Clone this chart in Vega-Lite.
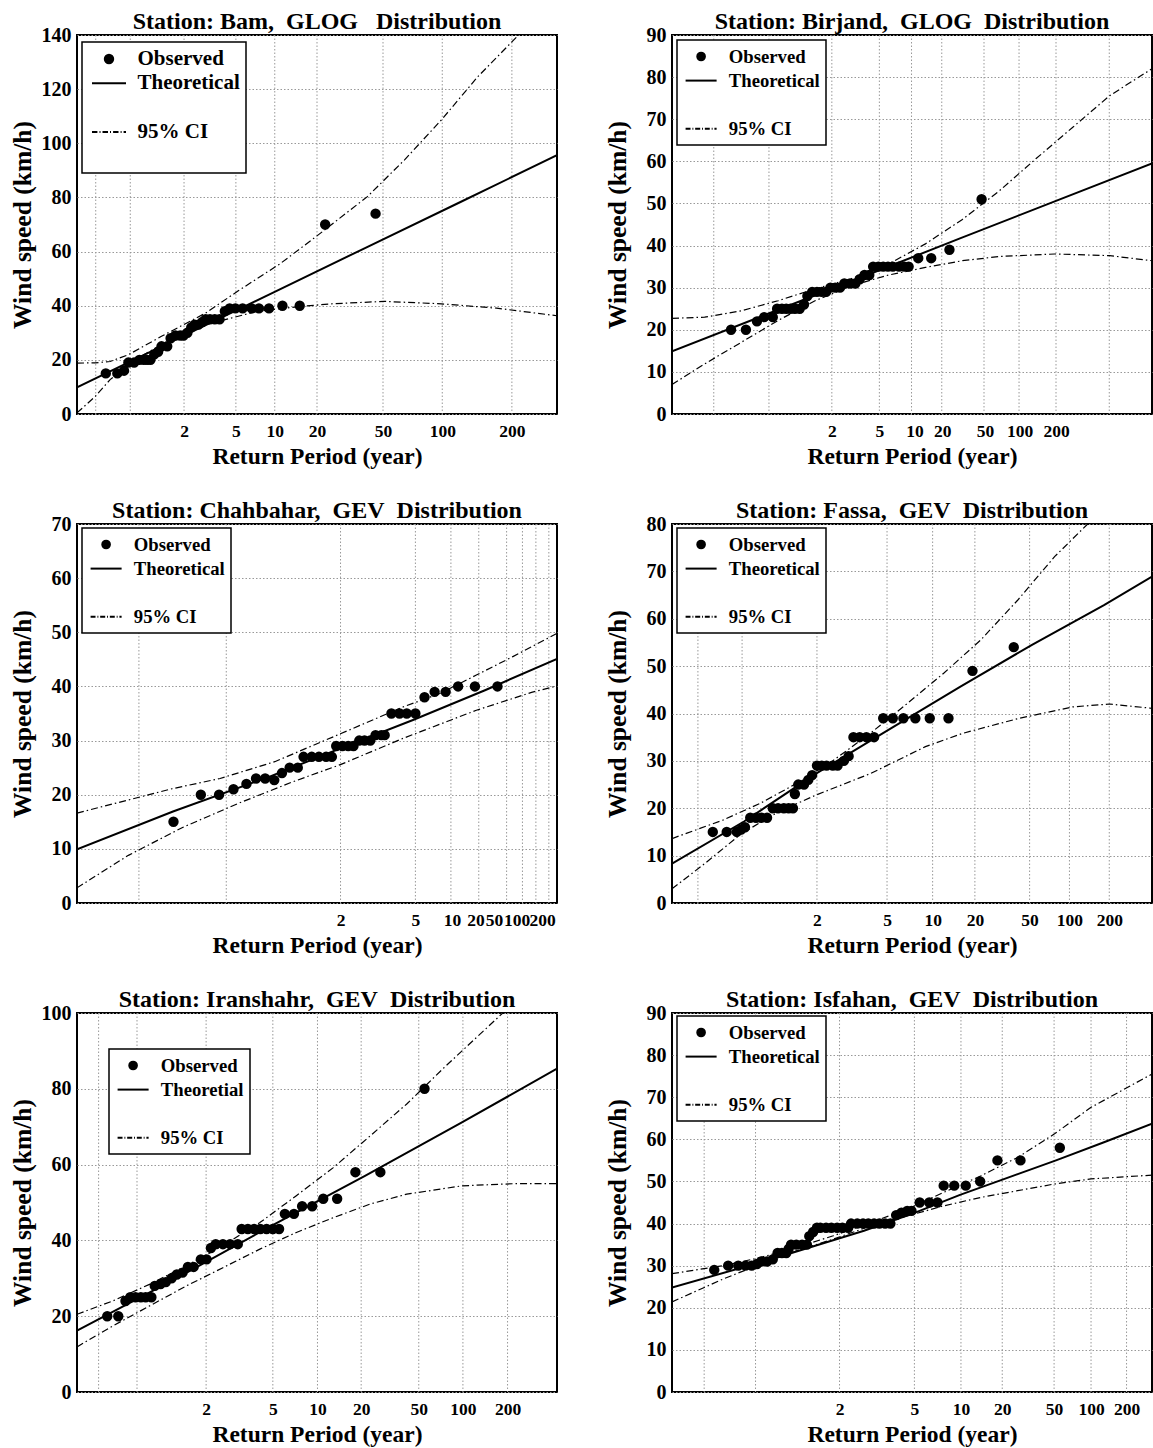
{
"$schema": "https://vega.github.io/schema/vega-lite/v6.json",
"background": "white",
"padding": {"left": 9, "top": 9, "right": 0, "bottom": 0},
"columns": 2,
"spacing": {"row": 110, "column": 115},
"bounds": "flush",
"resolve": {"scale": {"x": "independent", "y": "independent", "shape": "independent"}, "legend": {"shape": "independent"}},
"datasets": {
"obs": [
{"s":"Bam","p":6.0,"v":15},{"s":"Bam","p":8.4,"v":15},{"s":"Bam","p":9.8,"v":16},{"s":"Bam","p":10.7,"v":19},{"s":"Bam","p":11.9,"v":19},{"s":"Bam","p":13.0,"v":20},{"s":"Bam","p":13.9,"v":20},{"s":"Bam","p":14.6,"v":20},{"s":"Bam","p":15.3,"v":20},{"s":"Bam","p":16.1,"v":22},{"s":"Bam","p":16.9,"v":23},{"s":"Bam","p":17.6,"v":25},{"s":"Bam","p":18.8,"v":25},{"s":"Bam","p":19.5,"v":28},{"s":"Bam","p":20.5,"v":29},{"s":"Bam","p":21.5,"v":29},{"s":"Bam","p":22.2,"v":29},{"s":"Bam","p":23.0,"v":30},{"s":"Bam","p":23.8,"v":32},{"s":"Bam","p":24.5,"v":33},{"s":"Bam","p":25.3,"v":33},{"s":"Bam","p":26.1,"v":34},{"s":"Bam","p":26.8,"v":35},{"s":"Bam","p":27.7,"v":35},{"s":"Bam","p":28.7,"v":35},{"s":"Bam","p":29.7,"v":35},{"s":"Bam","p":30.8,"v":38},{"s":"Bam","p":31.8,"v":39},{"s":"Bam","p":33.0,"v":39},{"s":"Bam","p":34.5,"v":39},{"s":"Bam","p":36.4,"v":39},{"s":"Bam","p":37.9,"v":39},{"s":"Bam","p":40.0,"v":39},{"s":"Bam","p":42.8,"v":40},{"s":"Bam","p":46.4,"v":40},{"s":"Bam","p":51.7,"v":70},{"s":"Bam","p":62.2,"v":74},
{"s":"Birjand","p":12.3,"v":20},{"s":"Birjand","p":15.4,"v":20},{"s":"Birjand","p":17.7,"v":22},{"s":"Birjand","p":19.2,"v":23},{"s":"Birjand","p":21.0,"v":23},{"s":"Birjand","p":21.9,"v":25},{"s":"Birjand","p":22.9,"v":25},{"s":"Birjand","p":23.8,"v":25},{"s":"Birjand","p":24.7,"v":25},{"s":"Birjand","p":25.6,"v":25},{"s":"Birjand","p":26.6,"v":25},{"s":"Birjand","p":27.5,"v":26},{"s":"Birjand","p":28.2,"v":28},{"s":"Birjand","p":29.2,"v":29},{"s":"Birjand","p":30.2,"v":29},{"s":"Birjand","p":31.2,"v":29},{"s":"Birjand","p":32.1,"v":29},{"s":"Birjand","p":33.0,"v":30},{"s":"Birjand","p":34.0,"v":30},{"s":"Birjand","p":35.0,"v":30},{"s":"Birjand","p":35.9,"v":31},{"s":"Birjand","p":37.1,"v":31},{"s":"Birjand","p":38.2,"v":31},{"s":"Birjand","p":39.1,"v":32},{"s":"Birjand","p":40.1,"v":33},{"s":"Birjand","p":41.1,"v":33},{"s":"Birjand","p":41.9,"v":35},{"s":"Birjand","p":43.0,"v":35},{"s":"Birjand","p":44.0,"v":35},{"s":"Birjand","p":45.0,"v":35},{"s":"Birjand","p":46.0,"v":35},{"s":"Birjand","p":47.3,"v":35},{"s":"Birjand","p":48.4,"v":35},{"s":"Birjand","p":49.3,"v":35},{"s":"Birjand","p":51.3,"v":37},{"s":"Birjand","p":54.0,"v":37},{"s":"Birjand","p":57.8,"v":39},{"s":"Birjand","p":64.5,"v":51},
{"s":"Chahbahar","p":20.1,"v":15},{"s":"Chahbahar","p":25.8,"v":20},{"s":"Chahbahar","p":29.6,"v":20},{"s":"Chahbahar","p":32.6,"v":21},{"s":"Chahbahar","p":35.3,"v":22},{"s":"Chahbahar","p":37.3,"v":23},{"s":"Chahbahar","p":39.2,"v":23},{"s":"Chahbahar","p":41.1,"v":22.7},{"s":"Chahbahar","p":42.7,"v":24},{"s":"Chahbahar","p":44.3,"v":25},{"s":"Chahbahar","p":46.0,"v":25},{"s":"Chahbahar","p":47.2,"v":27},{"s":"Chahbahar","p":48.9,"v":27},{"s":"Chahbahar","p":50.4,"v":27},{"s":"Chahbahar","p":51.9,"v":27},{"s":"Chahbahar","p":53.1,"v":27},{"s":"Chahbahar","p":54.0,"v":29},{"s":"Chahbahar","p":55.3,"v":29},{"s":"Chahbahar","p":56.5,"v":29},{"s":"Chahbahar","p":57.6,"v":29},{"s":"Chahbahar","p":58.8,"v":30},{"s":"Chahbahar","p":59.9,"v":30},{"s":"Chahbahar","p":61.1,"v":30},{"s":"Chahbahar","p":62.2,"v":31},{"s":"Chahbahar","p":63.4,"v":31},{"s":"Chahbahar","p":64.1,"v":31},{"s":"Chahbahar","p":65.5,"v":35},{"s":"Chahbahar","p":67.2,"v":35},{"s":"Chahbahar","p":68.7,"v":35},{"s":"Chahbahar","p":70.5,"v":35},{"s":"Chahbahar","p":72.4,"v":38},{"s":"Chahbahar","p":74.5,"v":39},{"s":"Chahbahar","p":76.8,"v":39},{"s":"Chahbahar","p":79.4,"v":40},{"s":"Chahbahar","p":82.9,"v":40},{"s":"Chahbahar","p":87.6,"v":40},
{"s":"Fassa","p":8.5,"v":15},{"s":"Fassa","p":11.4,"v":15},{"s":"Fassa","p":13.5,"v":15},{"s":"Fassa","p":14.4,"v":15.5},{"s":"Fassa","p":15.2,"v":16},{"s":"Fassa","p":16.3,"v":18},{"s":"Fassa","p":17.5,"v":18},{"s":"Fassa","p":18.6,"v":18},{"s":"Fassa","p":19.8,"v":18},{"s":"Fassa","p":21.0,"v":20},{"s":"Fassa","p":22.1,"v":20},{"s":"Fassa","p":23.3,"v":20},{"s":"Fassa","p":24.3,"v":20},{"s":"Fassa","p":25.2,"v":20},{"s":"Fassa","p":25.6,"v":23},{"s":"Fassa","p":26.3,"v":25},{"s":"Fassa","p":27.5,"v":25},{"s":"Fassa","p":28.4,"v":26},{"s":"Fassa","p":29.2,"v":27},{"s":"Fassa","p":30.2,"v":29},{"s":"Fassa","p":31.2,"v":29},{"s":"Fassa","p":32.2,"v":29},{"s":"Fassa","p":33.5,"v":29},{"s":"Fassa","p":34.5,"v":29},{"s":"Fassa","p":35.8,"v":30},{"s":"Fassa","p":36.8,"v":31},{"s":"Fassa","p":37.8,"v":35},{"s":"Fassa","p":39.1,"v":35},{"s":"Fassa","p":40.5,"v":35},{"s":"Fassa","p":42.1,"v":35},{"s":"Fassa","p":44.0,"v":39},{"s":"Fassa","p":46.0,"v":39},{"s":"Fassa","p":48.2,"v":39},{"s":"Fassa","p":50.7,"v":39},{"s":"Fassa","p":53.7,"v":39},{"s":"Fassa","p":57.6,"v":39},{"s":"Fassa","p":62.6,"v":49},{"s":"Fassa","p":71.2,"v":54},
{"s":"Iranshahr","p":6.3,"v":20},{"s":"Iranshahr","p":8.6,"v":20},{"s":"Iranshahr","p":10.1,"v":24},{"s":"Iranshahr","p":11.1,"v":25},{"s":"Iranshahr","p":12.2,"v":25},{"s":"Iranshahr","p":13.3,"v":25},{"s":"Iranshahr","p":14.3,"v":25},{"s":"Iranshahr","p":15.5,"v":25},{"s":"Iranshahr","p":16.2,"v":28},{"s":"Iranshahr","p":17.4,"v":28.5},{"s":"Iranshahr","p":18.5,"v":29},{"s":"Iranshahr","p":19.7,"v":30},{"s":"Iranshahr","p":20.8,"v":31},{"s":"Iranshahr","p":22.0,"v":31.5},{"s":"Iranshahr","p":23.1,"v":33},{"s":"Iranshahr","p":24.3,"v":33},{"s":"Iranshahr","p":25.8,"v":35},{"s":"Iranshahr","p":27.0,"v":35},{"s":"Iranshahr","p":27.9,"v":38},{"s":"Iranshahr","p":28.9,"v":39},{"s":"Iranshahr","p":30.4,"v":39},{"s":"Iranshahr","p":31.9,"v":39},{"s":"Iranshahr","p":33.5,"v":39},{"s":"Iranshahr","p":34.3,"v":43},{"s":"Iranshahr","p":35.6,"v":43},{"s":"Iranshahr","p":36.9,"v":43},{"s":"Iranshahr","p":38.2,"v":43},{"s":"Iranshahr","p":39.5,"v":43},{"s":"Iranshahr","p":40.8,"v":43},{"s":"Iranshahr","p":42.1,"v":43},{"s":"Iranshahr","p":43.3,"v":47},{"s":"Iranshahr","p":45.2,"v":47},{"s":"Iranshahr","p":46.9,"v":49},{"s":"Iranshahr","p":49.0,"v":49},{"s":"Iranshahr","p":51.3,"v":51},{"s":"Iranshahr","p":54.2,"v":51},{"s":"Iranshahr","p":58.0,"v":58},{"s":"Iranshahr","p":63.2,"v":58},{"s":"Iranshahr","p":72.4,"v":80},
{"s":"Isfahan","p":8.8,"v":29},{"s":"Isfahan","p":11.7,"v":30},{"s":"Isfahan","p":13.8,"v":30},{"s":"Isfahan","p":15.3,"v":30},{"s":"Isfahan","p":16.6,"v":30},{"s":"Isfahan","p":17.7,"v":30.4},{"s":"Isfahan","p":18.6,"v":31},{"s":"Isfahan","p":19.8,"v":31},{"s":"Isfahan","p":21.0,"v":31.5},{"s":"Isfahan","p":22.0,"v":33},{"s":"Isfahan","p":22.9,"v":33},{"s":"Isfahan","p":23.8,"v":33},{"s":"Isfahan","p":24.3,"v":34},{"s":"Isfahan","p":24.8,"v":35},{"s":"Isfahan","p":25.9,"v":35},{"s":"Isfahan","p":27.1,"v":35},{"s":"Isfahan","p":28.1,"v":35},{"s":"Isfahan","p":28.6,"v":37},{"s":"Isfahan","p":29.4,"v":38},{"s":"Isfahan","p":30.2,"v":39},{"s":"Isfahan","p":30.9,"v":39},{"s":"Isfahan","p":32.1,"v":39},{"s":"Isfahan","p":33.2,"v":39},{"s":"Isfahan","p":34.4,"v":39},{"s":"Isfahan","p":35.5,"v":39},{"s":"Isfahan","p":36.7,"v":39},{"s":"Isfahan","p":37.3,"v":40},{"s":"Isfahan","p":38.6,"v":40},{"s":"Isfahan","p":39.8,"v":40},{"s":"Isfahan","p":40.9,"v":40},{"s":"Isfahan","p":42.1,"v":40},{"s":"Isfahan","p":43.2,"v":40},{"s":"Isfahan","p":44.4,"v":40},{"s":"Isfahan","p":45.5,"v":40},{"s":"Isfahan","p":46.7,"v":42},{"s":"Isfahan","p":47.8,"v":42.6},{"s":"Isfahan","p":49.0,"v":43},{"s":"Isfahan","p":49.9,"v":43},{"s":"Isfahan","p":51.6,"v":45},{"s":"Isfahan","p":53.6,"v":45},{"s":"Isfahan","p":55.3,"v":45},{"s":"Isfahan","p":56.6,"v":49},{"s":"Isfahan","p":58.8,"v":49},{"s":"Isfahan","p":61.2,"v":49},{"s":"Isfahan","p":64.2,"v":50},{"s":"Isfahan","p":67.8,"v":55},{"s":"Isfahan","p":72.6,"v":55},{"s":"Isfahan","p":80.8,"v":58}
],
"fit": [
{"s":"Bam","p":0,"v":9.8},{"s":"Bam","p":20,"v":27.0},{"s":"Bam","p":40,"v":44.1},{"s":"Bam","p":60,"v":61.3},{"s":"Bam","p":80,"v":78.4},{"s":"Bam","p":100,"v":95.6},
{"s":"Birjand","p":0,"v":14.9},{"s":"Birjand","p":20,"v":23.8},{"s":"Birjand","p":40,"v":32.7},{"s":"Birjand","p":60,"v":41.7},{"s":"Birjand","p":80,"v":50.6},{"s":"Birjand","p":100,"v":59.5},
{"s":"Chahbahar","p":0,"v":9.9},{"s":"Chahbahar","p":20,"v":16.9},{"s":"Chahbahar","p":40,"v":23.3},{"s":"Chahbahar","p":55,"v":28.6},{"s":"Chahbahar","p":70,"v":33.8},{"s":"Chahbahar","p":85,"v":39.3},{"s":"Chahbahar","p":100,"v":45.1},
{"s":"Fassa","p":0,"v":8.3},{"s":"Fassa","p":15,"v":17.2},{"s":"Fassa","p":30,"v":27.3},{"s":"Fassa","p":45,"v":36.5},{"s":"Fassa","p":60,"v":45.6},{"s":"Fassa","p":75,"v":54.5},{"s":"Fassa","p":90,"v":62.9},{"s":"Fassa","p":100,"v":68.9},
{"s":"Iranshahr","p":0,"v":16.2},{"s":"Iranshahr","p":20,"v":29.5},{"s":"Iranshahr","p":40,"v":43.5},{"s":"Iranshahr","p":60,"v":57.0},{"s":"Iranshahr","p":80,"v":71.0},{"s":"Iranshahr","p":100,"v":85.3},
{"s":"Isfahan","p":0,"v":24.8},{"s":"Isfahan","p":20,"v":31.3},{"s":"Isfahan","p":40,"v":38.3},{"s":"Isfahan","p":50,"v":42.3},{"s":"Isfahan","p":60,"v":46.8},{"s":"Isfahan","p":70,"v":50.9},{"s":"Isfahan","p":80,"v":55.0},{"s":"Isfahan","p":90,"v":59.3},{"s":"Isfahan","p":100,"v":63.7}
],
"ci": [
{"s":"Bam","b":"up","p":0,"v":18.8},{"s":"Bam","b":"up","p":3.8,"v":18.9},{"s":"Bam","b":"up","p":6.9,"v":19.4},{"s":"Bam","b":"up","p":10.7,"v":21.9},{"s":"Bam","b":"up","p":17.6,"v":28.7},{"s":"Bam","b":"up","p":26.8,"v":37.3},{"s":"Bam","b":"up","p":33.6,"v":45.5},{"s":"Bam","b":"up","p":42.3,"v":55.5},{"s":"Bam","b":"up","p":50,"v":65.8},{"s":"Bam","b":"up","p":60.5,"v":80.3},{"s":"Bam","b":"up","p":68.2,"v":93.8},{"s":"Bam","b":"up","p":75.9,"v":108.6},{"s":"Bam","b":"up","p":83.5,"v":124.6},{"s":"Bam","b":"up","p":92.0,"v":140},{"s":"Bam","b":"up","p":100,"v":154},
{"s":"Bam","b":"lo","p":0,"v":0.4},{"s":"Bam","b":"lo","p":3.8,"v":6.5},{"s":"Bam","b":"lo","p":6.9,"v":12.7},{"s":"Bam","b":"lo","p":11.5,"v":19.4},{"s":"Bam","b":"lo","p":17.6,"v":25.6},{"s":"Bam","b":"lo","p":26.8,"v":33},{"s":"Bam","b":"lo","p":37.5,"v":37.9},{"s":"Bam","b":"lo","p":46.4,"v":39.7},{"s":"Bam","b":"lo","p":52.9,"v":40.7},{"s":"Bam","b":"lo","p":64.0,"v":41.6},{"s":"Bam","b":"lo","p":75.9,"v":40.7},{"s":"Bam","b":"lo","p":87.4,"v":39.1},{"s":"Bam","b":"lo","p":100,"v":36.3},
{"s":"Birjand","b":"up","p":0,"v":22.7},{"s":"Birjand","b":"up","p":6.8,"v":23},{"s":"Birjand","b":"up","p":14.4,"v":24.5},{"s":"Birjand","b":"up","p":22.1,"v":26.9},{"s":"Birjand","b":"up","p":29.8,"v":29.7},{"s":"Birjand","b":"up","p":37.5,"v":32.2},{"s":"Birjand","b":"up","p":45.1,"v":35.6},{"s":"Birjand","b":"up","p":52.8,"v":40.4},{"s":"Birjand","b":"up","p":60.5,"v":46.2},{"s":"Birjand","b":"up","p":68.2,"v":53},{"s":"Birjand","b":"up","p":75.8,"v":60.6},{"s":"Birjand","b":"up","p":83.5,"v":68.1},{"s":"Birjand","b":"up","p":91.2,"v":75.6},{"s":"Birjand","b":"up","p":100,"v":82},
{"s":"Birjand","b":"lo","p":0,"v":7.0},{"s":"Birjand","b":"lo","p":6.8,"v":11.9},{"s":"Birjand","b":"lo","p":14.4,"v":17},{"s":"Birjand","b":"lo","p":22.1,"v":22.2},{"s":"Birjand","b":"lo","p":29.8,"v":26.9},{"s":"Birjand","b":"lo","p":37.5,"v":30.5},{"s":"Birjand","b":"lo","p":45.1,"v":33},{"s":"Birjand","b":"lo","p":52.8,"v":34.8},{"s":"Birjand","b":"lo","p":60.5,"v":36.4},{"s":"Birjand","b":"lo","p":68.2,"v":37.4},{"s":"Birjand","b":"lo","p":79.7,"v":38},{"s":"Birjand","b":"lo","p":91.2,"v":37.6},{"s":"Birjand","b":"lo","p":100,"v":36.4},
{"s":"Chahbahar","b":"up","p":0,"v":16.6},{"s":"Chahbahar","b":"up","p":19.8,"v":21.1},{"s":"Chahbahar","b":"up","p":29.8,"v":23},{"s":"Chahbahar","b":"up","p":41.2,"v":26.1},{"s":"Chahbahar","b":"up","p":55,"v":31.3},{"s":"Chahbahar","b":"up","p":67.9,"v":36.2},{"s":"Chahbahar","b":"up","p":75.6,"v":38.7},{"s":"Chahbahar","b":"up","p":83.2,"v":42.1},{"s":"Chahbahar","b":"up","p":90.8,"v":45.5},{"s":"Chahbahar","b":"up","p":100,"v":49.8},
{"s":"Chahbahar","b":"lo","p":0,"v":2.8},{"s":"Chahbahar","b":"lo","p":10.7,"v":8.8},{"s":"Chahbahar","b":"lo","p":22.1,"v":14},{"s":"Chahbahar","b":"lo","p":33.6,"v":18.4},{"s":"Chahbahar","b":"lo","p":45,"v":22.4},{"s":"Chahbahar","b":"lo","p":55,"v":25.6},{"s":"Chahbahar","b":"lo","p":67.9,"v":30.4},{"s":"Chahbahar","b":"lo","p":83.2,"v":35.6},{"s":"Chahbahar","b":"lo","p":94.7,"v":38.9},{"s":"Chahbahar","b":"lo","p":100,"v":40.1},
{"s":"Fassa","b":"up","p":0,"v":13.6},{"s":"Fassa","b":"up","p":10.6,"v":17.5},{"s":"Fassa","b":"up","p":18.3,"v":21},{"s":"Fassa","b":"up","p":25.9,"v":25.2},{"s":"Fassa","b":"up","p":33.6,"v":30.1},{"s":"Fassa","b":"up","p":41.3,"v":35.8},{"s":"Fassa","b":"up","p":49,"v":42.1},{"s":"Fassa","b":"up","p":56.6,"v":48.5},{"s":"Fassa","b":"up","p":64.3,"v":55.5},{"s":"Fassa","b":"up","p":72,"v":63.9},{"s":"Fassa","b":"up","p":79.7,"v":73.1},{"s":"Fassa","b":"up","p":86.6,"v":80},{"s":"Fassa","b":"up","p":100,"v":95},
{"s":"Fassa","b":"lo","p":0,"v":3.0},{"s":"Fassa","b":"lo","p":6.8,"v":8.3},{"s":"Fassa","b":"lo","p":14.4,"v":14.6},{"s":"Fassa","b":"lo","p":22.1,"v":19.2},{"s":"Fassa","b":"lo","p":29.8,"v":22.7},{"s":"Fassa","b":"lo","p":41.3,"v":27.3},{"s":"Fassa","b":"lo","p":52.8,"v":33},{"s":"Fassa","b":"lo","p":60.5,"v":35.8},{"s":"Fassa","b":"lo","p":72,"v":38.9},{"s":"Fassa","b":"lo","p":83.5,"v":41.4},{"s":"Fassa","b":"lo","p":91.2,"v":42},{"s":"Fassa","b":"lo","p":100,"v":41.1},
{"s":"Iranshahr","b":"up","p":0,"v":20.5},{"s":"Iranshahr","b":"up","p":7.4,"v":24},{"s":"Iranshahr","b":"up","p":15.1,"v":28.4},{"s":"Iranshahr","b":"up","p":22.8,"v":33.3},{"s":"Iranshahr","b":"up","p":30.4,"v":38.6},{"s":"Iranshahr","b":"up","p":38.1,"v":44.7},{"s":"Iranshahr","b":"up","p":45.7,"v":51.8},{"s":"Iranshahr","b":"up","p":53.4,"v":59.2},{"s":"Iranshahr","b":"up","p":61.1,"v":67.6},{"s":"Iranshahr","b":"up","p":68.7,"v":76},{"s":"Iranshahr","b":"up","p":76.4,"v":85.5},{"s":"Iranshahr","b":"up","p":88.7,"v":100},{"s":"Iranshahr","b":"up","p":100,"v":114},
{"s":"Iranshahr","b":"lo","p":0,"v":11.9},{"s":"Iranshahr","b":"lo","p":7.4,"v":17.4},{"s":"Iranshahr","b":"lo","p":15.1,"v":22.7},{"s":"Iranshahr","b":"lo","p":22.8,"v":28},{"s":"Iranshahr","b":"lo","p":30.4,"v":32.8},{"s":"Iranshahr","b":"lo","p":38.1,"v":37.7},{"s":"Iranshahr","b":"lo","p":45.7,"v":42.1},{"s":"Iranshahr","b":"lo","p":53.4,"v":46},{"s":"Iranshahr","b":"lo","p":61.1,"v":49.6},{"s":"Iranshahr","b":"lo","p":68.7,"v":52.2},{"s":"Iranshahr","b":"lo","p":80.2,"v":54.4},{"s":"Iranshahr","b":"lo","p":91.7,"v":55},{"s":"Iranshahr","b":"lo","p":100,"v":55},
{"s":"Isfahan","b":"up","p":0,"v":28.1},{"s":"Isfahan","b":"up","p":10.6,"v":30},{"s":"Isfahan","b":"up","p":18.3,"v":31.9},{"s":"Isfahan","b":"up","p":25.9,"v":34.3},{"s":"Isfahan","b":"up","p":33.6,"v":37.1},{"s":"Isfahan","b":"up","p":41.3,"v":40.2},{"s":"Isfahan","b":"up","p":49,"v":43.4},{"s":"Isfahan","b":"up","p":56.6,"v":47.4},{"s":"Isfahan","b":"up","p":64.3,"v":51.3},{"s":"Isfahan","b":"up","p":72,"v":55.7},{"s":"Isfahan","b":"up","p":79.7,"v":61.3},{"s":"Isfahan","b":"up","p":87.3,"v":67.6},{"s":"Isfahan","b":"up","p":100,"v":75.5},
{"s":"Isfahan","b":"lo","p":0,"v":21.4},{"s":"Isfahan","b":"lo","p":10.6,"v":26.8},{"s":"Isfahan","b":"lo","p":18.3,"v":30.3},{"s":"Isfahan","b":"lo","p":25.9,"v":33.5},{"s":"Isfahan","b":"lo","p":33.6,"v":36.3},{"s":"Isfahan","b":"lo","p":41.3,"v":39.4},{"s":"Isfahan","b":"lo","p":49,"v":41.8},{"s":"Isfahan","b":"lo","p":56.6,"v":44.2},{"s":"Isfahan","b":"lo","p":64.3,"v":46.2},{"s":"Isfahan","b":"lo","p":72,"v":47.8},{"s":"Isfahan","b":"lo","p":79.7,"v":49.4},{"s":"Isfahan","b":"lo","p":87.3,"v":50.6},{"s":"Isfahan","b":"lo","p":100,"v":51.5}
],
"grid": [
{"s":"Bam","p":3.9},{"s":"Bam","p":11.1},{"s":"Bam","p":22.3},{"s":"Bam","p":33.1},{"s":"Bam","p":41.2},{"s":"Bam","p":50.0},{"s":"Bam","p":63.75},{"s":"Bam","p":76.1},{"s":"Bam","p":90.6},
{"s":"Birjand","p":8.7},{"s":"Birjand","p":20.2},{"s":"Birjand","p":33.3},{"s":"Birjand","p":43.2},{"s":"Birjand","p":49.9},{"s":"Birjand","p":56.2},{"s":"Birjand","p":65.0},{"s":"Birjand","p":72.3},{"s":"Birjand","p":80.0},{"s":"Birjand","p":91.1},
{"s":"Chahbahar","p":12.9},{"s":"Chahbahar","p":31.1},{"s":"Chahbahar","p":54.9},{"s":"Chahbahar","p":70.5},{"s":"Chahbahar","p":77.9},{"s":"Chahbahar","p":83.7},{"s":"Chahbahar","p":89.5},{"s":"Chahbahar","p":92.8},{"s":"Chahbahar","p":95.6},{"s":"Chahbahar","p":98.3},
{"s":"Fassa","p":5.4},{"s":"Fassa","p":14.6},{"s":"Fassa","p":30.2},{"s":"Fassa","p":44.8},{"s":"Fassa","p":54.3},{"s":"Fassa","p":63.1},{"s":"Fassa","p":74.5},{"s":"Fassa","p":82.8},{"s":"Fassa","p":91.1},
{"s":"Iranshahr","p":4.5},{"s":"Iranshahr","p":12.5},{"s":"Iranshahr","p":26.9},{"s":"Iranshahr","p":40.8},{"s":"Iranshahr","p":50.1},{"s":"Iranshahr","p":59.2},{"s":"Iranshahr","p":71.2},{"s":"Iranshahr","p":80.4},{"s":"Iranshahr","p":89.7},
{"s":"Isfahan","p":6.7},{"s":"Isfahan","p":17.4},{"s":"Isfahan","p":34.9},{"s":"Isfahan","p":50.5},{"s":"Isfahan","p":60.2},{"s":"Isfahan","p":68.8},{"s":"Isfahan","p":79.6},{"s":"Isfahan","p":87.3},{"s":"Isfahan","p":94.7}
]
},
"concat": [
{
"width": 480, "height": 379,
"title": {"text": "Station: Bam,\u00a0 GLOG\u00a0\u00a0 Distribution"},
"encoding": {"x": {"field": "p", "type": "quantitative", "scale": {"domain": [0, 100]}, "axis": {"title": "Return Period (year)", "values": [22.3, 33.1, 41.2, 50.0, 63.75, 76.1, 90.6], "labelExpr": "['2','5','10','20','50','100','200'][indexof([22.3, 33.1, 41.2, 50.0, 63.75, 76.1, 90.6], datum.value)]"}}},
"layer": [
{"data": {"name": "grid"}, "transform": [{"filter": "datum.s == 'Bam'"}], "mark": {"type": "rule", "color": "#999", "strokeDash": [1.5, 2], "strokeWidth": 1}},
{"data": {"name": "ci"}, "transform": [{"filter": "datum.s == 'Bam'"}], "mark": {"type": "line", "clip": true, "color": "black", "strokeWidth": 1.2, "strokeDash": [7, 3, 1.5, 3]}, "encoding": {"y": {"field": "v", "type": "quantitative", "scale": {"domain": [0, 140]}, "axis": {"title": "Wind speed (km/h)", "values": [0, 20, 40, 60, 80, 100, 120, 140]}}, "detail": {"field": "b"}}},
{"data": {"name": "fit"}, "transform": [{"filter": "datum.s == 'Bam'"}], "mark": {"type": "line", "clip": true, "color": "black", "strokeWidth": 2}, "encoding": {"y": {"field": "v", "type": "quantitative"}}},
{"data": {"name": "obs"}, "transform": [{"filter": "datum.s == 'Bam'"}], "mark": {"type": "point", "filled": true, "fill": "black", "stroke": "black", "strokeWidth": 2, "opacity": 1, "size": 400}, "encoding": {"y": {"field": "v", "type": "quantitative"}, "shape": {"datum": "Observed", "type": "nominal", "scale": {"domain": ["Observed", "Theoretical", " ", "95% CI", "  "], "range": ["M-0.42,0A0.42,0.42,0,1,1,0.42,0A0.42,0.42,0,1,1,-0.42,0Z", "M-1.7,0L1.7,0", "M0,0", "M-1.7,0L-1.16,0M-0.95,0L-0.85,0M-0.65,0L-0.1,0M0.1,0L0.2,0M0.41,0L0.95,0M1.16,0L1.26,0M1.46,0L1.7,0", "M0,0"]}, "legend": {"legendX": 5, "legendY": 7, "rowPadding": 3.3, "labelFontSize": 21, "symbolSize": 400, "symbolOffset": 10, "labelOffset": 17.5}}}}
]
},
{
"width": 480, "height": 379,
"title": {"text": "Station: Birjand,\u00a0 GLOG\u00a0 Distribution"},
"encoding": {"x": {"field": "p", "type": "quantitative", "scale": {"domain": [0, 100]}, "axis": {"title": "Return Period (year)", "values": [33.3, 43.2, 50.5, 56.3, 65.2, 72.4, 80.0], "labelExpr": "['2','5','10','20','50','100','200'][indexof([33.3, 43.2, 50.5, 56.3, 65.2, 72.4, 80.0], datum.value)]"}}},
"layer": [
{"data": {"name": "grid"}, "transform": [{"filter": "datum.s == 'Birjand'"}], "mark": {"type": "rule", "color": "#999", "strokeDash": [1.5, 2], "strokeWidth": 1}},
{"data": {"name": "ci"}, "transform": [{"filter": "datum.s == 'Birjand'"}], "mark": {"type": "line", "clip": true, "color": "black", "strokeWidth": 1.2, "strokeDash": [7, 3, 1.5, 3]}, "encoding": {"y": {"field": "v", "type": "quantitative", "scale": {"domain": [0, 90]}, "axis": {"title": "Wind speed (km/h)", "values": [0, 10, 20, 30, 40, 50, 60, 70, 80, 90]}}, "detail": {"field": "b"}}},
{"data": {"name": "fit"}, "transform": [{"filter": "datum.s == 'Birjand'"}], "mark": {"type": "line", "clip": true, "color": "black", "strokeWidth": 2}, "encoding": {"y": {"field": "v", "type": "quantitative"}}},
{"data": {"name": "obs"}, "transform": [{"filter": "datum.s == 'Birjand'"}], "mark": {"type": "point", "filled": true, "fill": "black", "stroke": "black", "strokeWidth": 2, "opacity": 1, "size": 400}, "encoding": {"y": {"field": "v", "type": "quantitative"}, "shape": {"datum": "Observed", "type": "nominal", "scale": {"domain": ["Observed", "Theoretical", " ", "95% CI"], "range": ["M-0.42,0A0.42,0.42,0,1,1,0.42,0A0.42,0.42,0,1,1,-0.42,0Z", "M-1.7,0L1.7,0", "M0,0", "M-1.7,0L-1.16,0M-0.95,0L-0.85,0M-0.65,0L-0.1,0M0.1,0L0.2,0M0.41,0L0.95,0M1.16,0L1.26,0M1.46,0L1.7,0"]}, "legend": {"legendX": 5, "legendY": 5, "rowPadding": 3.1}}}}
]
},
{
"width": 480, "height": 379,
"title": {"text": "Station: Chahbahar,\u00a0 GEV\u00a0 Distribution"},
"encoding": {"x": {"field": "p", "type": "quantitative", "scale": {"domain": [0, 100]}, "axis": {"title": "Return Period (year)", "values": [54.9, 70.5, 78.1, 83.0, 86.9, 91.6, 96.9], "labelExpr": "['2','5','10','20','50','100','200'][indexof([54.9, 70.5, 78.1, 83.0, 86.9, 91.6, 96.9], datum.value)]"}}},
"layer": [
{"data": {"name": "grid"}, "transform": [{"filter": "datum.s == 'Chahbahar'"}], "mark": {"type": "rule", "color": "#999", "strokeDash": [1.5, 2], "strokeWidth": 1}},
{"data": {"name": "ci"}, "transform": [{"filter": "datum.s == 'Chahbahar'"}], "mark": {"type": "line", "clip": true, "color": "black", "strokeWidth": 1.2, "strokeDash": [7, 3, 1.5, 3]}, "encoding": {"y": {"field": "v", "type": "quantitative", "scale": {"domain": [0, 70]}, "axis": {"title": "Wind speed (km/h)", "values": [0, 10, 20, 30, 40, 50, 60, 70]}}, "detail": {"field": "b"}}},
{"data": {"name": "fit"}, "transform": [{"filter": "datum.s == 'Chahbahar'"}], "mark": {"type": "line", "clip": true, "color": "black", "strokeWidth": 2}, "encoding": {"y": {"field": "v", "type": "quantitative"}}},
{"data": {"name": "obs"}, "transform": [{"filter": "datum.s == 'Chahbahar'"}], "mark": {"type": "point", "filled": true, "fill": "black", "stroke": "black", "strokeWidth": 2, "opacity": 1, "size": 400}, "encoding": {"y": {"field": "v", "type": "quantitative"}, "shape": {"datum": "Observed", "type": "nominal", "scale": {"domain": ["Observed", "Theoretical", " ", "95% CI"], "range": ["M-0.42,0A0.42,0.42,0,1,1,0.42,0A0.42,0.42,0,1,1,-0.42,0Z", "M-1.7,0L1.7,0", "M0,0", "M-1.7,0L-1.16,0M-0.95,0L-0.85,0M-0.65,0L-0.1,0M0.1,0L0.2,0M0.41,0L0.95,0M1.16,0L1.26,0M1.46,0L1.7,0"]}, "legend": {"legendX": 5, "legendY": 4, "rowPadding": 3.1}}}}
]
},
{
"width": 480, "height": 379,
"title": {"text": "Station: Fassa,\u00a0 GEV\u00a0 Distribution"},
"encoding": {"x": {"field": "p", "type": "quantitative", "scale": {"domain": [0, 100]}, "axis": {"title": "Return Period (year)", "values": [30.2, 44.8, 54.3, 63.1, 74.5, 82.8, 91.1], "labelExpr": "['2','5','10','20','50','100','200'][indexof([30.2, 44.8, 54.3, 63.1, 74.5, 82.8, 91.1], datum.value)]"}}},
"layer": [
{"data": {"name": "grid"}, "transform": [{"filter": "datum.s == 'Fassa'"}], "mark": {"type": "rule", "color": "#999", "strokeDash": [1.5, 2], "strokeWidth": 1}},
{"data": {"name": "ci"}, "transform": [{"filter": "datum.s == 'Fassa'"}], "mark": {"type": "line", "clip": true, "color": "black", "strokeWidth": 1.2, "strokeDash": [7, 3, 1.5, 3]}, "encoding": {"y": {"field": "v", "type": "quantitative", "scale": {"domain": [0, 80]}, "axis": {"title": "Wind speed (km/h)", "values": [0, 10, 20, 30, 40, 50, 60, 70, 80]}}, "detail": {"field": "b"}}},
{"data": {"name": "fit"}, "transform": [{"filter": "datum.s == 'Fassa'"}], "mark": {"type": "line", "clip": true, "color": "black", "strokeWidth": 2}, "encoding": {"y": {"field": "v", "type": "quantitative"}}},
{"data": {"name": "obs"}, "transform": [{"filter": "datum.s == 'Fassa'"}], "mark": {"type": "point", "filled": true, "fill": "black", "stroke": "black", "strokeWidth": 2, "opacity": 1, "size": 400}, "encoding": {"y": {"field": "v", "type": "quantitative"}, "shape": {"datum": "Observed", "type": "nominal", "scale": {"domain": ["Observed", "Theoretical", " ", "95% CI"], "range": ["M-0.42,0A0.42,0.42,0,1,1,0.42,0A0.42,0.42,0,1,1,-0.42,0Z", "M-1.7,0L1.7,0", "M0,0", "M-1.7,0L-1.16,0M-0.95,0L-0.85,0M-0.65,0L-0.1,0M0.1,0L0.2,0M0.41,0L0.95,0M1.16,0L1.26,0M1.46,0L1.7,0"]}, "legend": {"legendX": 5, "legendY": 4, "rowPadding": 3.1}}}}
]
},
{
"width": 480, "height": 379,
"title": {"text": "Station: Iranshahr,\u00a0 GEV\u00a0 Distribution"},
"encoding": {"x": {"field": "p", "type": "quantitative", "scale": {"domain": [0, 100]}, "axis": {"title": "Return Period (year)", "values": [26.9, 40.8, 50.1, 59.2, 71.2, 80.4, 89.7], "labelExpr": "['2','5','10','20','50','100','200'][indexof([26.9, 40.8, 50.1, 59.2, 71.2, 80.4, 89.7], datum.value)]"}}},
"layer": [
{"data": {"name": "grid"}, "transform": [{"filter": "datum.s == 'Iranshahr'"}], "mark": {"type": "rule", "color": "#999", "strokeDash": [1.5, 2], "strokeWidth": 1}},
{"data": {"name": "ci"}, "transform": [{"filter": "datum.s == 'Iranshahr'"}], "mark": {"type": "line", "clip": true, "color": "black", "strokeWidth": 1.2, "strokeDash": [7, 3, 1.5, 3]}, "encoding": {"y": {"field": "v", "type": "quantitative", "scale": {"domain": [0, 100]}, "axis": {"title": "Wind speed (km/h)", "values": [0, 20, 40, 60, 80, 100]}}, "detail": {"field": "b"}}},
{"data": {"name": "fit"}, "transform": [{"filter": "datum.s == 'Iranshahr'"}], "mark": {"type": "line", "clip": true, "color": "black", "strokeWidth": 2}, "encoding": {"y": {"field": "v", "type": "quantitative"}}},
{"data": {"name": "obs"}, "transform": [{"filter": "datum.s == 'Iranshahr'"}], "mark": {"type": "point", "filled": true, "fill": "black", "stroke": "black", "strokeWidth": 2, "opacity": 1, "size": 400}, "encoding": {"y": {"field": "v", "type": "quantitative"}, "shape": {"datum": "Observed", "type": "nominal", "scale": {"domain": ["Observed", "Theoretial", " ", "95% CI"], "range": ["M-0.42,0A0.42,0.42,0,1,1,0.42,0A0.42,0.42,0,1,1,-0.42,0Z", "M-1.7,0L1.7,0", "M0,0", "M-1.7,0L-1.16,0M-0.95,0L-0.85,0M-0.65,0L-0.1,0M0.1,0L0.2,0M0.41,0L0.95,0M1.16,0L1.26,0M1.46,0L1.7,0"]}, "legend": {"legendX": 32, "legendY": 36, "rowPadding": 3.1}}}}
]
},
{
"width": 480, "height": 379,
"title": {"text": "Station: Isfahan,\u00a0 GEV\u00a0 Distribution"},
"encoding": {"x": {"field": "p", "type": "quantitative", "scale": {"domain": [0, 100]}, "axis": {"title": "Return Period (year)", "values": [34.9, 50.5, 60.2, 68.8, 79.6, 87.3, 94.7], "labelExpr": "['2','5','10','20','50','100','200'][indexof([34.9, 50.5, 60.2, 68.8, 79.6, 87.3, 94.7], datum.value)]"}}},
"layer": [
{"data": {"name": "grid"}, "transform": [{"filter": "datum.s == 'Isfahan'"}], "mark": {"type": "rule", "color": "#999", "strokeDash": [1.5, 2], "strokeWidth": 1}},
{"data": {"name": "ci"}, "transform": [{"filter": "datum.s == 'Isfahan'"}], "mark": {"type": "line", "clip": true, "color": "black", "strokeWidth": 1.2, "strokeDash": [7, 3, 1.5, 3]}, "encoding": {"y": {"field": "v", "type": "quantitative", "scale": {"domain": [0, 90]}, "axis": {"title": "Wind speed (km/h)", "values": [0, 10, 20, 30, 40, 50, 60, 70, 80, 90]}}, "detail": {"field": "b"}}},
{"data": {"name": "fit"}, "transform": [{"filter": "datum.s == 'Isfahan'"}], "mark": {"type": "line", "clip": true, "color": "black", "strokeWidth": 2}, "encoding": {"y": {"field": "v", "type": "quantitative"}}},
{"data": {"name": "obs"}, "transform": [{"filter": "datum.s == 'Isfahan'"}], "mark": {"type": "point", "filled": true, "fill": "black", "stroke": "black", "strokeWidth": 2, "opacity": 1, "size": 400}, "encoding": {"y": {"field": "v", "type": "quantitative"}, "shape": {"datum": "Observed", "type": "nominal", "scale": {"domain": ["Observed", "Theoretical", " ", "95% CI"], "range": ["M-0.42,0A0.42,0.42,0,1,1,0.42,0A0.42,0.42,0,1,1,-0.42,0Z", "M-1.7,0L1.7,0", "M0,0", "M-1.7,0L-1.16,0M-0.95,0L-0.85,0M-0.65,0L-0.1,0M0.1,0L0.2,0M0.41,0L0.95,0M1.16,0L1.26,0M1.46,0L1.7,0"]}, "legend": {"legendX": 5, "legendY": 3, "rowPadding": 3.1}}}}
]
}
],
"config": {
"font": "Liberation Serif",
"view": {"stroke": "black", "strokeWidth": 2},
"axis": {"labelFont": "Liberation Serif", "labelFontWeight": "bold", "labelColor": "black", "titleFont": "Liberation Serif", "titleFontWeight": "bold", "titleColor": "black", "domain": false, "ticks": false, "gridColor": "#999", "gridDash": [1.5, 2], "gridWidth": 1, "labelFlush": false, "labelOverlap": false, "labelBound": false},
"axisX": {"labelFontSize": 17.5, "titleFontSize": 23.5, "grid": false, "labelPadding": 8, "titlePadding": 5},
"axisY": {"labelFontSize": 20, "titleFontSize": 25.5, "grid": true, "labelPadding": 6, "titleX": -42, "titleY": 189.5},
"title": {"font": "Liberation Serif", "fontSize": 24, "fontWeight": "bold", "color": "black", "offset": -9, "anchor": "middle"},
"legend": {"orient": "none", "title": null, "strokeColor": "black", "strokeWidth": 1.5, "fillColor": "white", "padding": 6, "labelFont": "Liberation Serif", "labelFontSize": 18.7, "labelFontWeight": "bold", "labelColor": "black", "labelLimit": 400, "symbolSize": 333, "symbolStrokeWidth": 2, "symbolOffset": 7.6, "labelOffset": 17.2}
}
}
